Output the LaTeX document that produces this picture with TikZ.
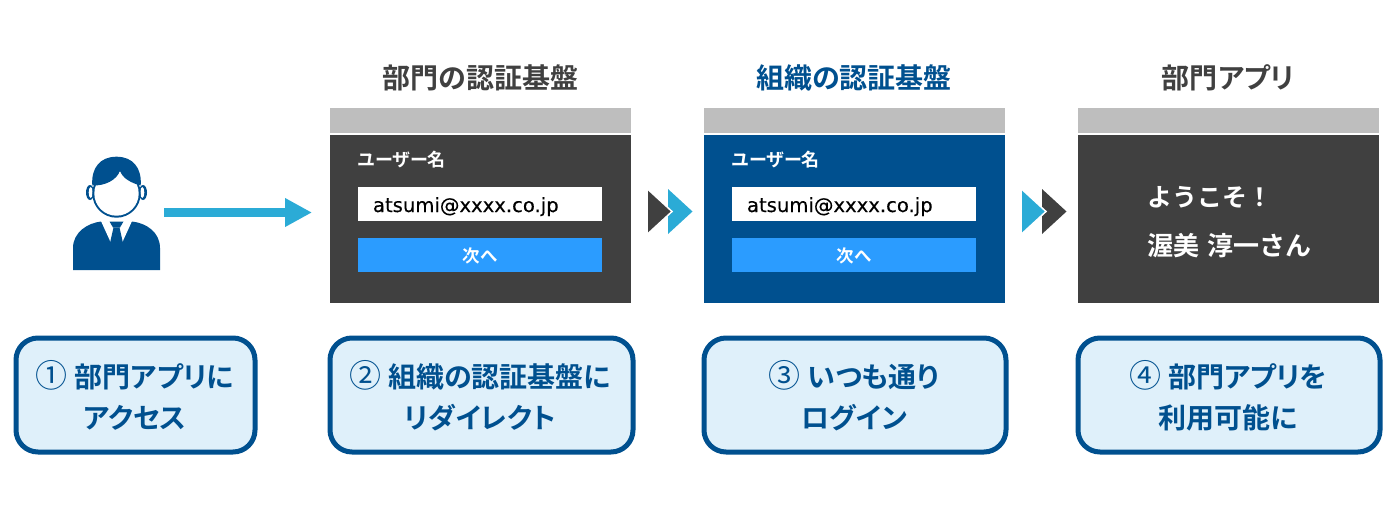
\documentclass[tikz,border=0pt]{standalone}
\usepackage{fontspec}
\usetikzlibrary{arrows.meta}
\setmainfont{Noto Sans CJK JP}[BoldFont={* Bold},RawFeature={+palt}]
\newfontfamily\latinfont{DejaVu Sans}[FakeBold=0.25]
\newfontfamily\circfont{Noto Sans CJK JP}
\newfontfamily\fullfont{Noto Sans CJK JP}[BoldFont={* Bold}]
\newcommand{\circnum}[1]{{\mdseries\circfont\fontsize{32}{32}\selectfont #1}\hspace{7pt}}
\definecolor{navy}{HTML}{00508F}
\definecolor{sky}{HTML}{2BABD6}
\definecolor{dark}{HTML}{404040}
\definecolor{barg}{HTML}{BEBEBE}
\definecolor{btn}{HTML}{2B9CFF}
\definecolor{pale}{HTML}{DFF0FA}
\tikzset{
  x=1pt,y=-1pt,
  every node/.style={inner sep=0pt,outer sep=0pt},
  bar/.style={fill=barg,minimum width=301pt,minimum height=25pt,anchor=north west},
  panel/.style={minimum width=301pt,minimum height=168pt,anchor=north west},
  field/.style={fill=white,minimum width=244pt,minimum height=34pt,anchor=north west},
  fieldtext/.style={anchor=base west,text=black,font=\latinfont\fontsize{19.6}{19.6}\selectfont},
  btnbox/.style={fill=btn,minimum width=244pt,minimum height=34pt,anchor=north west},
  btntext/.style={text=white,font=\bfseries\fontsize{17.5}{17.5}\selectfont},
  uname/.style={anchor=west,text=white,font=\bfseries\fontsize{18}{18}\selectfont},
  head/.style={font=\bfseries\fontsize{28}{28}\selectfont},
  welcome/.style={anchor=west,text=white,font=\fullfont\bfseries\fontsize{#1}{#1}\selectfont},
  stepbox/.style={draw=navy,line width=5pt,fill=pale,rounded corners=22pt,minimum height=114pt,minimum width=#1,text=navy,align=center},
  steptext/.style={text=navy,font=\bfseries\fontsize{28}{28}\selectfont},
  flow/.style={draw=sky,line width=9pt,-{Triangle[length=27pt,width=27pt]}},
  chev/.style={draw=white,line width=1.5pt},
}
\begin{document}
\begin{tikzpicture}
\useasboundingbox (0,0) rectangle (1393,512);
% person
\node (person) at (116.5,213.5) [minimum width=87pt,minimum height=113pt] {};
\fill[navy] (73,270) -- (73,248) .. controls (73,232) and (88,223) .. (101,221.5) -- (132,221.5) .. controls (146,223) and (160,232) .. (160,248) -- (160,270) -- cycle;
\fill[white] (100.5,220) -- (111,243) -- (122,243) -- (132.5,220) -- cycle;
\fill[navy] (109.5,221.5) -- (123.5,221.5) -- (120,227.5) -- (113,227.5) -- cycle;
\fill[navy] (113.5,227.5) -- (119.5,227.5) -- (123,243) -- (116.5,251) -- (110,243) -- cycle;
\fill[navy] (90,192.5) ellipse (4pt and 7.5pt);
\fill[navy] (143,192.5) ellipse (4pt and 7.5pt);
\fill[white] (90.7,192.5) ellipse (2pt and 5.5pt);
\fill[white] (142.3,192.5) ellipse (2pt and 5.5pt);
\fill[navy] (116.5,193.5) circle (24.2pt);
\fill[white] (116.5,193.5) circle (22.2pt);
\fill[navy] (92.3,185.5) .. controls (91,168) and (100,156.7) .. (116.5,156.7) .. controls (133,156.7) and (142,168) .. (140.7,185.5) .. controls (131,183) and (122,178) .. (120,170.5) .. controls (117,180) and (105,186) .. (92.3,185.5) -- cycle;
% panels
\node[bar] (bar1) at (330,108) {};
\node[bar] (bar2) at (704,108) {};
\node[bar] (bar3) at (1078,108) {};
\node[panel,fill=dark] (panelA) at (330,135) {};
\node[panel,fill=navy] (panelB) at (704,135) {};
\node[panel,fill=dark] (panelC) at (1078,135) {};
\node[head,text=dark] (titleA) at (480.5,78) {部門の認証基盤};
\node[head,text=navy] (titleB) at (854,78) {組織の認証基盤};
\node[head,text=dark] (titleC) at (1228,78) {部門アプリ};
\node[uname] (userA) at (358,160) {ユーザー名};
\node[field] (fieldA) at (358,187) {};
\node[fieldtext] (mailA) at (373,212) {atsumi@xxxx.co.jp};
\node[btnbox] (nextA) at (358,238) {};
\node[btntext] (nextAt) at (480,256) {次へ};
\node[uname] (userB) at (732,160) {ユーザー名};
\node[field] (fieldB) at (732,187) {};
\node[fieldtext] (mailB) at (747,212) {atsumi@xxxx.co.jp};
\node[btnbox] (nextB) at (732,238) {};
\node[btntext] (nextBt) at (854,256) {次へ};
\node[welcome=25] (hello) at (1147,197) {ようこそ！};
\node[welcome=26] (name) at (1147,246) {渥美\hspace{3pt} 淳一さん};
% arrows
\coordinate (flowstart) at (164,212.5);
\coordinate (flowend) at (330,212.5);
\draw[flow,shorten >=18pt] (flowstart) -- (flowend);
% chevrons
\path[fill=sky] (668,189) -- (692.5,211.5) -- (668,234) -- cycle;
\path[fill=dark,chev] (647,188.5) -- (672,211.5) -- (647,234.5) -- cycle;
\path[fill=dark] (1042,189) -- (1066.5,211.5) -- (1042,234) -- cycle;
\path[fill=sky,chev] (1021,188.5) -- (1046,211.5) -- (1021,234.5) -- cycle;
% step boxes
\node[stepbox=239pt] (s1) at (135.5,395) {};
\node[stepbox=303pt] (s2) at (481.5,395) {};
\node[stepbox=302pt] (s3) at (855,395) {};
\node[stepbox=302pt] (s4) at (1229,395) {};
\node[steptext] (s1a) at (135,375) {\circnum{①}部門アプリに};
\node[steptext] (s1b) at (135,418) {アクセス};
\node[steptext] (s2a) at (480,375) {\circnum{②}組織の認証基盤に};
\node[steptext] (s2b) at (480,418) {リダイレクト};
\node[steptext] (s3a) at (854,375) {\circnum{③}いつも通り};
\node[steptext] (s3b) at (854,418) {ログイン};
\node[steptext] (s4a) at (1228,375) {\circnum{④}部門アプリを};
\node[steptext] (s4b) at (1228,418) {利用可能に};
\end{tikzpicture}
\end{document}
